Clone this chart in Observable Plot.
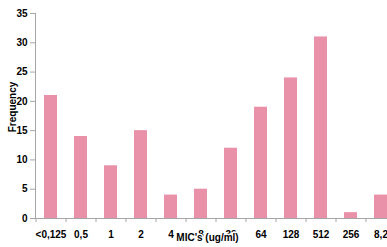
<!DOCTYPE html>
<html>
<head>
<meta charset="utf-8">
<script src="https://cdn.jsdelivr.net/npm/d3@7"></script>
<script src="https://cdn.jsdelivr.net/npm/@observablehq/plot@0.6"></script>
<style>
  html, body { margin: 0; padding: 0; background: #fff; }
  svg { display: block; }
</style>
</head>
<body>
<div id="chart"></div>
<script>
const categories = ["<0,125", "0,5", "1", "2", "4", "8", "32", "64", "128", "512", "256", "8,2"];
const frequency = [21, 14, 9, 15, 4, 5, 12, 19, 24, 31, 1, 4];
const yTicks = [0, 5, 10, 15, 20, 25, 30, 35];
const xTitle = "MIC's (ug/ml)";
const yTitle = "Frequency";

const data = categories.map((c, i) => ({cat: c, value: frequency[i]}));
const font = "'Liberation Sans', Arial, sans-serif";

const chart = Plot.plot({
  width: 387,
  height: 247,
  marginLeft: 35,
  marginRight: 0,
  marginTop: 13,
  marginBottom: 29,
  style: {fontFamily: font, fontSize: "10px", fontWeight: "bold", background: "#fff"},
  x: {domain: categories, range: [35, 395], paddingInner: 0.57, paddingOuter: 0.285, axis: null},
  y: {domain: [0, 35], axis: null},
  marks: [
    Plot.barY(data, {x: "cat", y: "value", fill: "#e891a9"}),
    Plot.frame({anchor: "left", stroke: "#a6a6a6"}),
    Plot.ruleY([0], {stroke: "#a6a6a6"}),
    Plot.axisY({ticks: yTicks, tickSize: 5, tickPadding: 3, stroke: "#a6a6a6", fill: "black", label: null}),
    Plot.axisX({tickSize: 4, tickFormat: () => "", dx: -15, stroke: "#a6a6a6", label: null}),
    Plot.axisX({tickSize: 0, tickPadding: 12, fill: "black", label: null}),
    Plot.text([xTitle], {frameAnchor: "bottom", lineAnchor: "bottom", dx: -4, dy: 22, fill: "black", stroke: "white", strokeWidth: 3, fontSize: 10, fontWeight: "bold"}),
    Plot.text([yTitle], {frameAnchor: "left", textAnchor: "middle", rotate: -90, dx: -23, dy: -9, fill: "black", fontSize: 10, fontWeight: "bold"})
  ]
});
document.getElementById("chart").appendChild(chart);
</script>
</body>
</html>
